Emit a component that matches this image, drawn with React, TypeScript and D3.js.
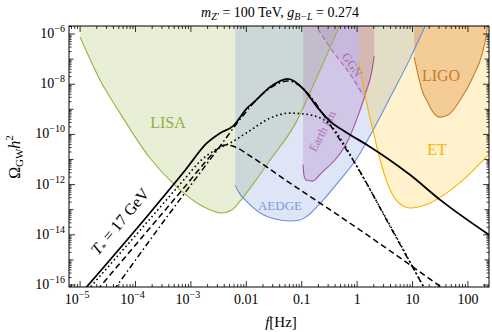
import React from "react";
import * as d3 from "d3";

// all curves are [log10 f, log10 Omega] pairs
const lisa: [number, number][] = [
  [-5.0, -6.12], [-4.64, -7.83], [-4.28, -9.15], [-3.74, -10.94], [-3.29, -12.02],
  [-2.83, -12.81], [-2.6, -13.05], [-2.44, -13.13], [-2.26, -13.01], [-2.11, -12.65],
  [-1.84, -11.86], [-1.57, -11.02], [-1.12, -9.59], [-0.7, -7.59], [-0.27, -5.44],
];
const aedge: [number, number][] = [
  [-2.2, -12.02], [-2.13, -12.33], [-2.02, -12.61], [-1.75, -13.13], [-1.48, -13.37],
  [-1.21, -13.45], [-1.03, -13.41], [-0.9, -13.25], [-0.61, -12.61], [-0.31, -11.82],
  [0.0, -10.94], [0.29, -9.82], [0.6, -8.51], [0.96, -6.96], [1.23, -5.68], [1.32, -5.28],
];
const earthKm: [number, number][] = [
  [-0.975, -11.2], [-0.96, -11.62], [-0.92, -11.82], [-0.81, -11.86], [-0.63, -11.5],
  [-0.4, -11.02], [-0.16, -10.22], [0.02, -9.23], [0.16, -8.31], [0.27, -7.43], [0.307, -6.88],
];
const ggn: [number, number][] = [
  [-0.79, -5.52], [-0.43, -6.72], [-0.13, -7.59], [0.11, -8.43],
];
const ggnEdge: [number, number][] = [[0.16, -8.31], [0.27, -7.43], [0.307, -6.88]];
const et: [number, number][] = [
  [0.03, -7.12], [0.09, -7.79], [0.18, -8.83], [0.27, -9.67], [0.415, -11.02],
  [0.56, -12.02], [0.7, -12.61], [0.83, -12.85], [0.96, -12.93], [1.1, -12.89],
  [1.32, -12.73], [1.62, -12.33], [1.95, -11.74], [2.26, -11.06], [2.49, -10.54],
];
const ligo: [number, number][] = [
  [1.03, -6.92], [1.1, -7.63], [1.17, -8.23], [1.28, -8.75], [1.37, -9.11],
  [1.5, -9.31], [1.64, -9.23], [1.86, -8.63], [2.09, -7.71], [2.26, -6.76],
  [2.33, -6.04], [2.36, -5.52],
];

const total: [number, number][] = [
  [-4.93, -16.2], [-3.74, -13.13], [-3.1, -11.42], [-2.71, -10.34], [-2.47, -9.94],
  [-2.24, -9.67], [-1.97, -8.91], [-1.88, -8.75], [-1.57, -8.11], [-1.25, -7.79],
  [-0.97, -8.19], [-0.72, -8.91], [-0.49, -9.47], [-0.18, -9.94], [0.18, -10.42],
  [0.96, -11.62], [1.5, -12.61], [2.44, -14.09],
];
const dashed: [number, number][] = [
  [-4.69, -16.2], [-3.74, -13.73], [-3.1, -12.06], [-2.74, -11.1], [-2.56, -10.66],
  [-2.38, -10.42], [-2.2, -10.5], [-1.93, -10.86], [-1.21, -11.94], [0.0, -13.73],
  [1.59, -16.2],
];
const dotted: [number, number][] = [
  [-4.86, -16.2], [-3.74, -13.37], [-3.1, -11.74], [-2.83, -11.06], [-2.56, -10.62],
  [-2.29, -10.34], [-1.97, -9.9], [-1.57, -9.35], [-1.21, -9.15], [-0.79, -9.25],
  [-0.49, -9.62], [-0.25, -10.34], [-0.04, -11.14], [0.6, -13.65], [1.23, -16.2],
];
const dashDot: [number, number][] = [
  [-4.39, -16.2], [-3.38, -13.13], [-2.47, -10.46], [-2.11, -9.39], [-1.75, -8.47],
  [-1.48, -8.03], [-1.25, -7.87], [-1.03, -8.07], [-0.85, -8.47], [-0.58, -9.31],
  [-0.31, -10.22], [-0.04, -11.14], [0.6, -13.69], [1.23, -16.2],
];

const xDecades = d3.range(-5, 3);
const xLabels = ["10^-5", "10^-4", "10^-3", "0.01", "0.1", "1", "10", "100"];
const yDecades = d3.range(-16, -5);

const W = 492;
const H = 332;
const left = 69, right = 489, top = 26, bottom = 287;
const serif = "'Liberation Serif', 'DejaVu Serif', serif";

const x = d3.scaleLog().domain([10 ** -5.2, 10 ** 2.38]).range([left, right]);
const y = d3.scaleLog().domain([10 ** -16.08, 10 ** -5.68]).range([bottom, top]);

const line = d3
  .line<[number, number]>()
  .x((d) => x(10 ** d[0]))
  .y((d) => y(10 ** d[1]))
  .curve(d3.curveMonotoneX);

const area = d3
  .area<[number, number]>()
  .x((d) => x(10 ** d[0]))
  .y0(top - 10)
  .y1((d) => y(10 ** d[1]))
  .curve(d3.curveMonotoneX);

function Pow({ base, exp }: { base: string; exp: string }) {
  return (
    <>
      <tspan>{base}</tspan>
      <tspan dy={-6} fontSize={10}>
        {exp}
      </tspan>
    </>
  );
}

export default function App() {
  const xMinor: number[] = [];
  for (let k = -6; k <= 2; k++)
    for (let m = 2; m <= 9; m++) {
      const v = m * 10 ** k;
      if (v > x.domain()[0] && v < x.domain()[1]) xMinor.push(v);
    }
  const yMinor: number[] = [];
  for (let k = -17; k <= -6; k++)
    for (let m = 2; m <= 9; m++) {
      const v = m * 10 ** k;
      if (v > y.domain()[0] && v < y.domain()[1]) yMinor.push(v);
    }

  return (
    <svg
      width={W}
      height={H}
      style={{ position: "absolute", left: 0, top: 0, background: "#fff" }}
      fontFamily={serif}
    >
      <defs>
        <clipPath id="plot">
          <rect x={left} y={top} width={right - left} height={bottom - top} />
        </clipPath>
      </defs>

      <g clipPath="url(#plot)">
        <path d={area(lisa)!} fill="#9ab84a" fillOpacity={0.22} />
        <path d={area(aedge)!} fill="#5b7fd8" fillOpacity={0.2} />
        <path d={area(earthKm)!} fill="#9b4fa5" fillOpacity={0.2} />
        <path d={area([...ggn, ...ggnEdge])!} fill="#9b4fa5" fillOpacity={0.12} />
        <path d={area(et)!} fill="#ffc000" fillOpacity={0.2} />
        <path d={area(ligo)!} fill="#d8741c" fillOpacity={0.3} />

        <path d={line(lisa)!} fill="none" stroke="#95b53f" strokeWidth={1.1} />
        <path d={line(aedge)!} fill="none" stroke="#6a8fdc" strokeWidth={1.1} />
        <path d={line(earthKm)!} fill="none" stroke="#a553a8" strokeWidth={1.1} />
        <path d={line(ggn)!} fill="none" stroke="#b064b0" strokeWidth={1.1} strokeDasharray="5,3" />
        <path d={line(et)!} fill="none" stroke="#f5b400" strokeWidth={1.1} />
        <path d={line(ligo)!} fill="none" stroke="#cd7a2b" strokeWidth={1.1} />

        <text x={168} y={128} fontSize={16} fill="#8fb040" textAnchor="middle">LISA</text>
        <text x={280} y={210} fontSize={13} fill="#7e9ae0" textAnchor="middle">AEDGE</text>
        <text x={441} y={81} fontSize={16} fill="#c97a33" textAnchor="middle">LIGO</text>
        <text x={437} y={155} fontSize={16} fill="#f5b400" textAnchor="middle">ET</text>
        <text x={0} y={0} fontSize={12} fill="#a868b0" textAnchor="middle"
          transform="translate(349,67) rotate(55)">GGN</text>
        <text x={0} y={0} fontSize={12} fill="#b070b0" textAnchor="middle"
          transform="translate(326,133) rotate(-62)">Earth km</text>

        <path d={line(dashDot)!} fill="none" stroke="#000" strokeWidth={1.5} strokeDasharray="6,3,1.5,3" />
        <path d={line(dotted)!} fill="none" stroke="#000" strokeWidth={1.6} strokeDasharray="1.6,2.8" />
        <path d={line(dashed)!} fill="none" stroke="#000" strokeWidth={1.5} strokeDasharray="6,3.5" />
        <path d={line(total)!} fill="none" stroke="#000" strokeWidth={1.8} />

        <text x={0} y={0} fontSize={16} textAnchor="middle" transform="translate(124,225) rotate(-50)">
          <tspan fontStyle="italic">T</tspan>
          <tspan fontSize={10} dy={3}>*</tspan>
          <tspan dy={-3}> = 17 GeV</tspan>
        </text>
      </g>

      {/* ticks */}
      <g stroke="#000" strokeWidth={0.8}>
        {xDecades.map((k) => (
          <g key={"xm" + k}>
            <line x1={x(10 ** k)} x2={x(10 ** k)} y1={bottom} y2={bottom - 6} />
            <line x1={x(10 ** k)} x2={x(10 ** k)} y1={top} y2={top + 6} />
          </g>
        ))}
        {xMinor.map((v, i) => (
          <g key={"xn" + i}>
            <line x1={x(v)} x2={x(v)} y1={bottom} y2={bottom - 3} />
            <line x1={x(v)} x2={x(v)} y1={top} y2={top + 3} />
          </g>
        ))}
        {yDecades.map((k) => (
          <g key={"ym" + k}>
            <line x1={left} x2={left + (k % 2 === 0 ? 6 : 4.5)} y1={y(10 ** k)} y2={y(10 ** k)} />
            <line x1={right} x2={right - (k % 2 === 0 ? 6 : 4.5)} y1={y(10 ** k)} y2={y(10 ** k)} />
          </g>
        ))}
        {yMinor.map((v, i) => (
          <g key={"yn" + i}>
            <line x1={left} x2={left + 2.5} y1={y(v)} y2={y(v)} />
            <line x1={right} x2={right - 2.5} y1={y(v)} y2={y(v)} />
          </g>
        ))}
      </g>
      <rect x={left} y={top} width={right - left} height={bottom - top} fill="none" stroke="#000" strokeWidth={1} />

      {/* tick labels */}
      {xDecades.map((k, i) => {
        const lab = xLabels[i];
        const [b, e] = lab.split("^");
        return (
          <text key={"xl" + k} x={x(10 ** k) - (e ? 3 : 0)} y={304} fontSize={14} textAnchor="middle">
            {e ? <Pow base={b} exp={e.replace("-", "−")} /> : b}
          </text>
        );
      })}
      {yDecades
        .filter((k) => k % 2 === 0)
        .map((k) => (
          <text key={"yl" + k} x={65} y={y(10 ** k) + 4} fontSize={14} textAnchor="end">
            <Pow base="10" exp={"−" + Math.abs(k)} />
          </text>
        ))}

      {/* title and axis labels */}
      <text x={280} y={17} fontSize={14} textAnchor="middle">
        <tspan fontStyle="italic">m</tspan>
        <tspan fontStyle="italic" fontSize={10} dy={3}>Z′</tspan>
        <tspan dy={-3}> = 100 TeV, </tspan>
        <tspan fontStyle="italic">g</tspan>
        <tspan fontStyle="italic" fontSize={10} dy={3}>B−L</tspan>
        <tspan dy={-3}> = 0.274</tspan>
      </text>
      <text x={281} y={327} fontSize={15} textAnchor="middle">
        <tspan fontStyle="italic">f</tspan>
        <tspan>[Hz]</tspan>
      </text>
      <text x={0} y={0} fontSize={16} textAnchor="middle" transform="translate(20,157) rotate(-90)">
        <tspan>Ω</tspan>
        <tspan fontSize={11} dy={3}>GW</tspan>
        <tspan dy={-3} fontStyle="italic">h</tspan>
        <tspan fontSize={11} dy={-7}>2</tspan>
      </text>
    </svg>
  );
}
